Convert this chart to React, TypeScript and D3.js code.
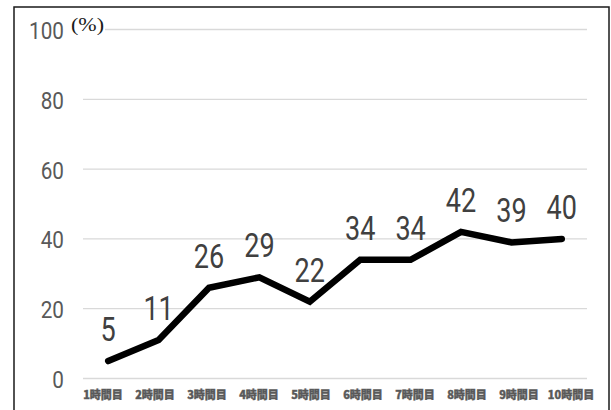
import React from "react";
import * as d3 from "d3";

const categories = ["1時間目", "2時間目", "3時間目", "4時間目", "5時間目", "6時間目", "7時間目", "8時間目", "9時間目", "10時間目"];
const values = [5, 11, 26, 29, 22, 34, 34, 42, 39, 40];
const yTicks = [0, 20, 40, 60, 80, 100];
const unitLabel = "(%)";

const W = 611;
const H = 410;

export default function App() {
  const x = d3.scaleBand<string>().domain(categories).range([83, 587]).padding(0);
  const xLab = d3.scalePoint<string>().domain(categories).range([103, 571]);
  const y = d3.scaleLinear().domain([0, 100]).range([378.5, 29.5]);
  const cx = (c: string) => (x(c) as number) + x.bandwidth() / 2;
  const line = d3
    .line<number>()
    .x((_, i) => cx(categories[i]))
    .y((d) => y(d));

  return (
    <svg width={W} height={H} style={{ position: "absolute", left: 0, top: 0, background: "#fff" }}>
      <rect x={0} y={0} width={W} height={H} fill="#fff" />
      <rect x={14} y={7} width={595} height={420} fill="none" stroke="#1a1a1a" strokeWidth={1.5} />
      {yTicks.map((t) => (
        <g key={t}>
          <line x1={83} x2={587} y1={y(t)} y2={y(t)} stroke="#d9d9d9" strokeWidth={1.3} />
          <text
            x={64}
            y={y(t) + 9.5}
            textAnchor="end"
            fontFamily="Roboto, sans-serif"
            fontSize={23}
            fill="#595959"
            transform={`translate(64,0) scale(0.9,1) translate(-64,0)`}
          >
            {t}
          </text>
        </g>
      ))}
      <rect x={69} y={15} width={36} height={21} fill="#fff" />
      <text
        x={71}
        y={30.5}
        fontFamily="'Liberation Serif', 'DejaVu Serif', serif"
        fontSize={19}
        fill="#1a1a1a"
        textLength={33}
        lengthAdjust="spacingAndGlyphs"
      >
        {unitLabel}
      </text>
      <path
        d={line(values) || ""}
        fill="none"
        stroke="#000"
        strokeWidth={6.5}
        strokeLinecap="round"
        strokeLinejoin="miter"
      />
      {values.map((v, i) => {
        const px = cx(categories[i]);
        return (
          <text
            key={i}
            x={px}
            y={y(v) - 20}
            textAnchor="middle"
            fontFamily="Roboto, sans-serif"
            fontSize={33}
            fill="#404040"
            transform={`translate(${px},0) scale(0.82,1) translate(${-px},0)`}
          >
            {v}
          </text>
        );
      })}
      {categories.map((c) => (
        <text
          key={c}
          x={xLab(c)}
          y={399}
          textAnchor="middle"
          fontFamily="'Noto Sans CJK JP', sans-serif"
          fontWeight={900}
          fontSize={11}
          fill="#595959"
          stroke="#595959"
          strokeWidth={0.4}
        >
          {c}
        </text>
      ))}
    </svg>
  );
}
